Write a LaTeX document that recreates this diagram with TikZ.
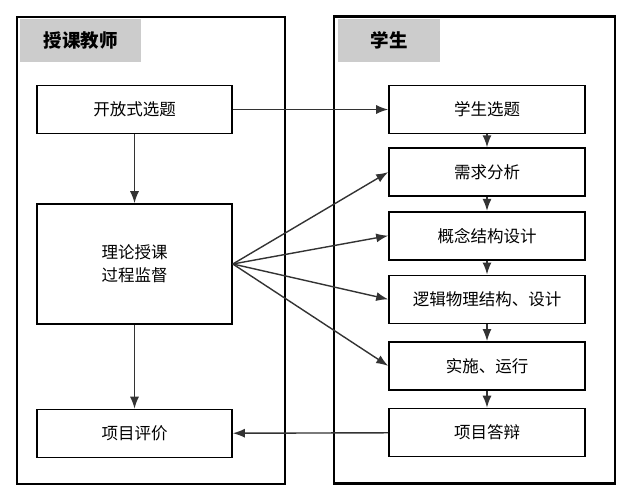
\documentclass[tikz,border=0pt]{standalone}
\usepackage{fontspec}
\setmainfont{Noto Sans CJK SC}
\usepackage{tikz}
\usetikzlibrary{
  arrows.meta,
  positioning
}
\definecolor{LaneGray}{RGB}{204,204,204}
\definecolor{InkGray}{RGB}{51,51,51}
\tikzset{
  lane/.style={
    draw=black,
    line width=2.6pt,
    minimum width=268pt,
    minimum height=467pt,
    inner sep=0pt
  },
  lanehead/.style={
    fill=LaneGray,
    minimum height=43pt,
    inner sep=0pt,
    font=\fontsize{18.5}{20}\selectfont\bfseries
  },
  stepbox/.style={
    draw=black,
    fill=white,
    line width=1.6pt,
    minimum width=195pt,
    minimum height=48pt,
    align=center,
    inner sep=0pt,
    font=\fontsize{16.5}{23}\selectfont
  },
  arrow/.style={-{Latex[length=12pt,width=9pt]},line width=1.4pt,draw=InkGray}
}

\begin{document}
\begin{tikzpicture}[x=1pt,y=-1pt,node distance=15pt]
  \useasboundingbox (0,0) rectangle (631,503);
  % lanes
  \node[lane] (tlane) at (151,250.5) {};
  \node[lane, minimum width=281pt] (slane) at (474.5,250) {};
  \node[lanehead, minimum width=121pt] (thead) at (80.5,40.5) {授课教师};
  \node[lanehead, minimum width=102pt] (shead) at (389,40.5) {学生};

  % teacher side
  \node[stepbox] (open) at (134.5,109.5) {开放式选题};
  \node[stepbox, minimum height=120pt] (teach) at (134.5,264) {理论授课\\过程监督};
  \node[stepbox] (eval) at (134.5,433.5) {项目评价};

  % student side
  \node[stepbox, minimum width=196pt] (pick) at (487,109.5) {学生选题};
  \node[stepbox, minimum width=196pt, below=13pt of pick] (need) {需求分析};
  \node[stepbox, minimum width=196pt, below=14pt of need] (concept) {概念结构设计};
  \node[stepbox, minimum width=196pt, below=14pt of concept] (logic) {逻辑物理结构、设计};
  \node[stepbox, minimum width=196pt, below=17pt of logic] (run) {实施、运行};
  \node[stepbox, minimum width=196pt, below=17pt of run] (defend) {项目答辩};

  \draw[arrow] (open) -- (pick);
  \draw[arrow] (open) -- (teach);
  \draw[arrow] (teach) -- (eval);
  \draw[arrow] (teach.east) -- (need.west);
  \draw[arrow] (teach.east) -- (concept.west);
  \draw[arrow] (teach.east) -- (logic.west);
  \draw[arrow] (teach.east) -- (run.west);
  \draw[arrow] (pick) -- (need);
  \draw[arrow] (need) -- (concept);
  \draw[arrow] (concept) -- (logic);
  \draw[arrow] (logic) -- (run);
  \draw[arrow] (run) -- (defend);
  \draw[arrow] (defend) -- (eval);
\end{tikzpicture}
\end{document}
